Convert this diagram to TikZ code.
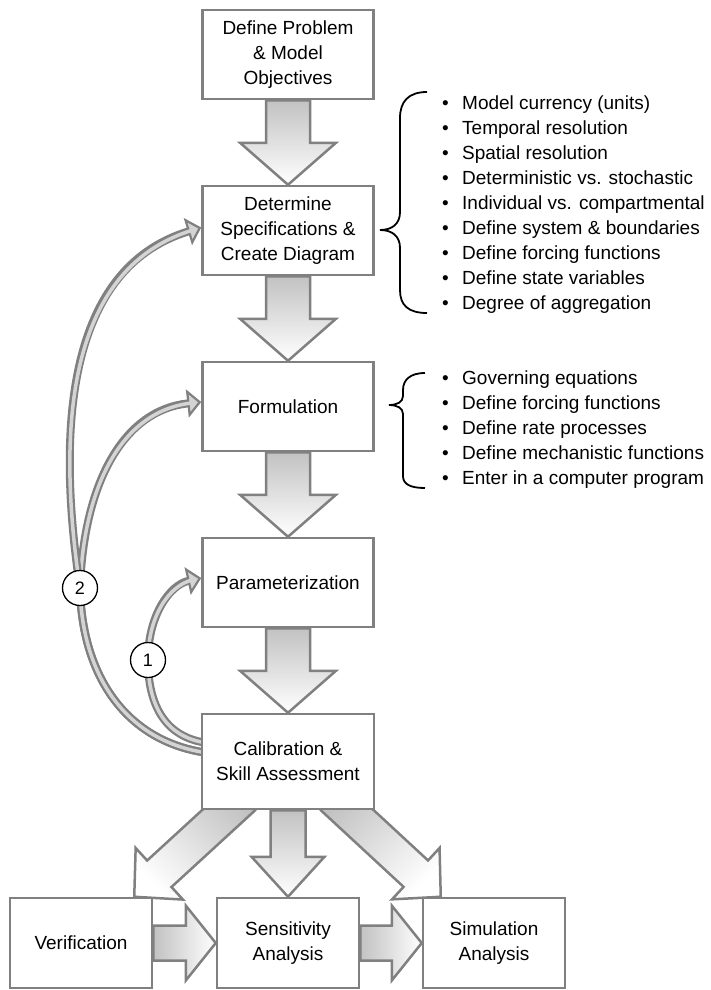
\documentclass[tikz,border=0pt]{standalone}
\usepackage{fontspec}
\setmainfont{Liberation Sans}
\setsansfont{Liberation Sans}
\usetikzlibrary{arrows.meta,calc,positioning,backgrounds}
\newcommand{\stagefont}{\fontsize{19}{25}\selectfont}
\tikzset{stage/.style={draw=black!50, line width=2.5pt, fill=white, minimum width=171pt,
    minimum height=89pt, align=center, inner sep=2pt, font=\stagefont},
  outcome/.style={stage, minimum width=142pt, minimum height=90pt},
  blockarr/.style={draw=black!50, line width=2.5pt, line join=miter, top color=black!24, bottom color=white},
  feedback/.style={draw=black!50, line width=8pt,
    -{Triangle[length=14pt,width=28pt,line width=2.2pt,fill=black!17]},
    postaction={draw=black!17, line width=3.5pt, -, shorten >=9pt}},
  tag/.style={circle, draw, line width=1.3pt, fill=white, minimum size=35pt, inner sep=0pt,
    font=\fontsize{18}{20}\selectfont},
  listitem/.style={anchor=base west, inner sep=0pt, font=\stagefont},
  curly/.style={draw, line width=1.8pt}}
% block arrow: #2 tail, #3 tip, #4 shaft half width, #5 head half width, #6 head length
\newcommand{\blockarrow}[6]{%
  \coordinate (hb) at ($(#3)!#6!(#2)$);
  \path[blockarr,#1] ($(#2)!#4!90:(#3)$) -- ($(hb)!#4!90:(#3)$) -- ($(hb)!#5!90:(#3)$)
    -- (#3) -- ($(hb)!#5!-90:(#3)$) -- ($(hb)!#4!-90:(#3)$) -- ($(#2)!#4!-90:(#3)$) -- cycle;}

\begin{document}
\begin{tikzpicture}[x=1pt, y=-1pt, font=\sffamily]
  \useasboundingbox (0,0) rectangle (711,990);

  % main chain
  \node[stage] (def) at (288,54.5) {Define Problem\\\& Model\\Objectives};
  \node[stage, below=84.5pt of def] (spec) {Determine\\Specifications \&\\Create Diagram};
  \node[stage, below=84.5pt of spec] (form) {Formulation};
  \node[stage, below=84.5pt of form] (param) {Parameterization};
  \node[stage, below=84.5pt of param, minimum width=172pt, minimum height=95pt] (cal) {Calibration \&\\Skill Assessment};
  \node[outcome, below=86.5pt of cal] (sens) {Sensitivity\\Analysis};
  \node[outcome, left=62.5pt of sens] (verif) {Verification};
  \node[outcome, right=61.5pt of sens] (sim) {Simulation\\Analysis};

  % loop markers
  \node[tag] (n2) at (80,588) {2};
  \node[tag] (n1) at (148,660) {1};

  % specification list
  \foreach \t [count=\i] in {Model currency (units), Temporal resolution, Spatial resolution,
      Deterministic vs. stochastic, Individual vs. compartmental, Define system \& boundaries,
      Define forcing functions, Define state variables, Degree of aggregation}
    \node[listitem] (sp\i) at (442,{84+25*\i}) {\makebox[20pt][l]{\textbullet}\t};
  \draw[curly] (427,92) .. controls (408,92) and (400,102) .. (400,118) -- (400,212)
    .. controls (400,224) and (392,230) .. (380,230) .. controls (392,230) and (400,236) .. (400,248)
    -- (400,290) .. controls (400,305) and (408,313) .. (427,313);

  % formulation list
  \foreach \t [count=\i] in {Governing equations, Define forcing functions, Define rate processes,
      Define mechanistic functions, Enter in a computer program}
    \node[listitem] (fm\i) at (442,{359.5+25*\i}) {\makebox[20pt][l]{\textbullet}\t};
  \draw[curly] (425,373) .. controls (410,373) and (403,380) .. (403,390) -- (403,396)
    .. controls (403,402) and (397,405) .. (389,405) .. controls (397,405) and (403,408) .. (403,414)
    -- (403,476) .. controls (403,484) and (410,488) .. (425,488);

  \begin{scope}[on background layer]
    \foreach \a/\b in {def/spec, spec/form, form/param, param/cal}
      {\blockarrow{}{\a.south}{\b.north}{22pt}{48pt}{42pt}}

    \coordinate (vtail) at ($(cal.south west)+(42,-13)$);
    \coordinate (vtip) at ($(verif.north east)+(-19,0)$);
    \coordinate (stail) at ($(cal.south east)+(-42,-13)$);
    \coordinate (stip) at ($(sim.north west)+(19,0)$);
    \blockarrow{shading angle=-45}{vtail}{vtip}{18pt}{35pt}{34pt}
    \blockarrow{shading angle=45}{stail}{stip}{18pt}{35pt}{34pt}
    \blockarrow{}{cal.south}{sens.north}{17.5pt}{36.5pt}{40pt}
    \blockarrow{shading angle=90}{verif.east}{sens.west}{17.5pt}{37.5pt}{30pt}
    \blockarrow{shading angle=90}{sens.east}{sim.west}{17.5pt}{37.5pt}{30pt}

    % feedback loops
    \draw[feedback] ($(cal.west)+(12,-8)$) .. controls (130,745) and (82,680) .. (n2.center)
      .. controls (84,480) and (125,410) .. ($(form.west)+(0,-4.5)$);
    \draw[feedback] ($(cal.west)+(12,-8)$) .. controls (130,745) and (82,680) .. (n2.center)
      .. controls (58,440) and (62,270) .. ($(spec.west)+(0,-3)$);
    \draw[feedback] ($(cal.west)+(12,-18)$) .. controls (165,740) and (148,705) .. (n1.center)
      .. controls (148,615) and (170,585) .. ($(param.west)+(0,-4.5)$);
  \end{scope}
\end{tikzpicture}
\end{document}
